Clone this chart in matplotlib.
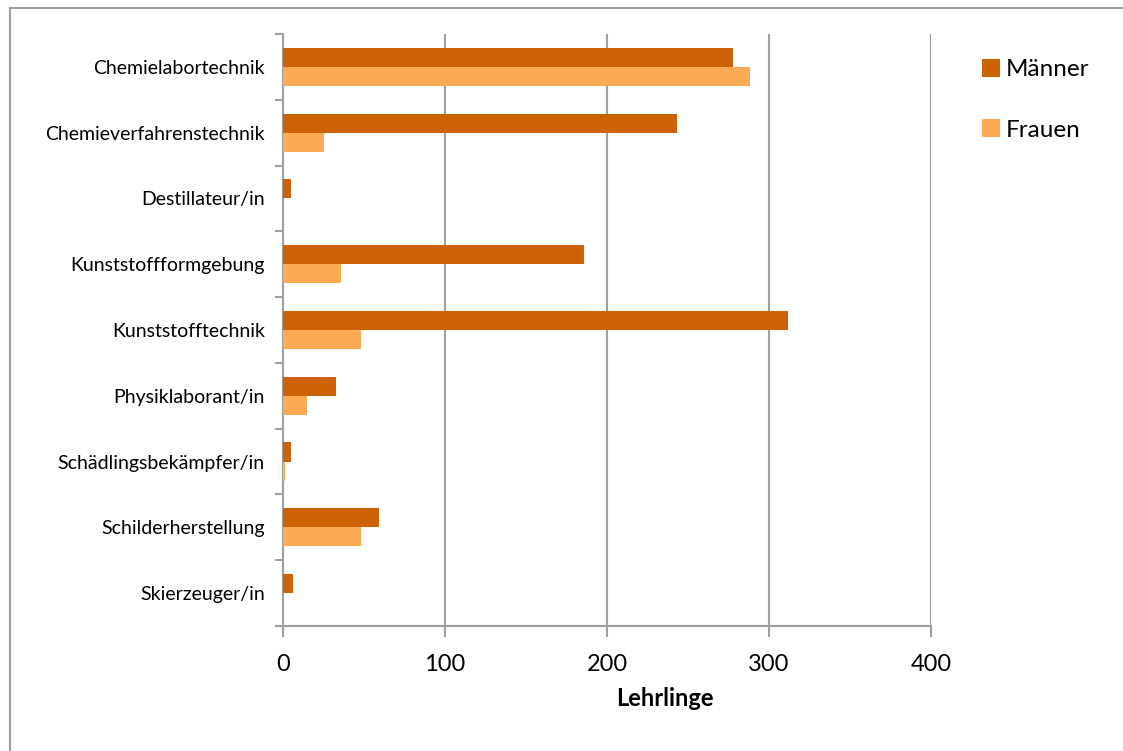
import numpy as np
import matplotlib.pyplot as plt
from matplotlib.lines import Line2D

# Daten
berufe = ["Chemielabortechnik", "Chemieverfahrenstechnik", "Destillateur/in",
          "Kunststoffformgebung", "Kunststofftechnik", "Physiklaborant/in",
          "Schädlingsbekämpfer/in", "Schilderherstellung", "Skierzeuger/in"]
maenner = [278, 243, 5, 186, 312, 33, 5, 59, 6]
frauen = [288, 25, 0, 36, 48, 15, 1, 48, 0]
x_ticks = [0, 100, 200, 300, 400]

c_m = "#CC6204"
c_f = "#FDAA55"
grau = "#A0A0A0"

plt.rcParams["font.family"] = ["Lato", "DejaVu Sans"]

fig = plt.figure(figsize=(11.23, 7.51), dpi=100)
W, H = 1123, 751
ax = fig.add_axes([283 / W, 1 - 626 / H, (931 - 283) / W, (626 - 34) / H])

# Rahmen (nur oben und links sichtbar, der Rest ist abgeschnitten)
fig.add_artist(Line2D([10 / W, 1], [1 - 8 / H, 1 - 8 / H], transform=fig.transFigure,
                      color=grau, linewidth=1.5))
fig.add_artist(Line2D([10 / W, 10 / W], [0, 1 - 8 / H], transform=fig.transFigure,
                      color=grau, linewidth=1.5))

y = np.arange(len(berufe))
h = 0.29
ax.barh(y - h / 2, maenner, height=h, color=c_m, label="Männer", zorder=3)
ax.barh(y + h / 2, frauen, height=h, color=c_f, label="Frauen", zorder=3)

ax.set_xlim(0, 400)
ax.set_ylim(len(berufe) - 0.5, -0.5)
ax.set_xticks(x_ticks)
ax.set_xticklabels([str(v) for v in x_ticks], fontsize=17)
ax.set_yticks(y)
ax.set_yticklabels(berufe, fontsize=14)
ax.tick_params(axis="y", length=0, pad=13)
ax.set_yticks(np.arange(len(berufe) + 1) - 0.5, minor=True)
ax.tick_params(axis="y", which="minor", length=6, color=grau, width=1.5)
ax.tick_params(axis="x", length=8, color=grau, width=1.5, pad=12)

ax.grid(axis="x", color=grau, linewidth=1.5, zorder=0)
for s in ["top", "right"]:
    ax.spines[s].set_visible(False)
for s in ["left", "bottom"]:
    ax.spines[s].set_color(grau)
    ax.spines[s].set_linewidth(1.5)

# Achsentitel leicht rechts der Mitte wie im Original
fig.text(665 / W, 1 - 698 / H, "Lehrlinge", fontsize=17, fontweight="bold",
         ha="center", va="center")

ax.legend(loc="upper left", bbox_to_anchor=(970 / W, 1 - 47 / H), bbox_transform=fig.transFigure,
          frameon=False, fontsize=17.5, handlelength=0.74, handleheight=0.74, handletextpad=0.25,
          labelspacing=1.6, borderpad=0)

fig.savefig("out.png", dpi=100)
